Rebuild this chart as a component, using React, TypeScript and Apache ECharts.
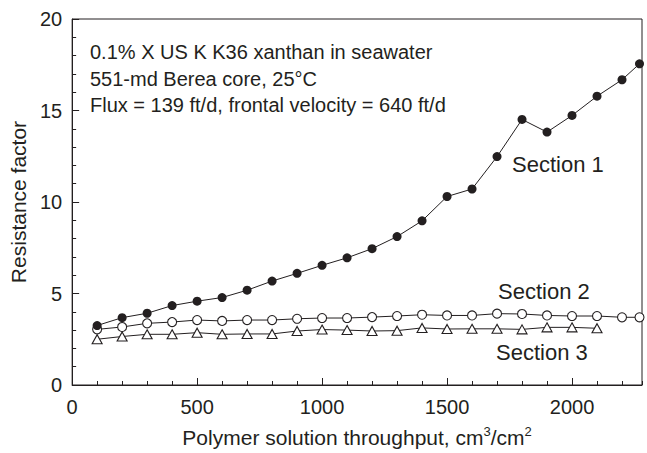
import React, { useEffect, useRef } from "react";
import * as echarts from "echarts";

// Throughput, cm3/cm2
const throughputS1 = [100, 200, 300, 400, 500, 600, 700, 800, 900, 1000, 1100, 1200, 1300, 1400, 1500, 1600, 1700, 1800, 1900, 2000, 2100, 2200, 2270];
const throughputS2 = [100, 200, 300, 400, 500, 600, 700, 800, 900, 1000, 1100, 1200, 1300, 1400, 1500, 1600, 1700, 1800, 1900, 2000, 2100, 2200, 2270];
const throughputS3 = [100, 200, 300, 400, 500, 600, 700, 800, 900, 1000, 1100, 1200, 1300, 1400, 1500, 1600, 1700, 1800, 1900, 2000, 2100];

// Resistance factor per section
const section1 = [3.25, 3.68, 3.92, 4.34, 4.58, 4.78, 5.18, 5.68, 6.1, 6.54, 6.95, 7.45, 8.11, 8.97, 10.3, 10.71, 12.48, 14.51, 13.82, 14.73, 15.78, 16.68, 17.55];
const section2 = [3.04, 3.17, 3.37, 3.44, 3.55, 3.5, 3.55, 3.55, 3.62, 3.66, 3.66, 3.71, 3.77, 3.84, 3.8, 3.8, 3.9, 3.88, 3.8, 3.77, 3.77, 3.7, 3.7];
const section3 = [2.5, 2.65, 2.77, 2.77, 2.86, 2.77, 2.79, 2.79, 2.95, 3.03, 3.0, 2.95, 2.97, 3.12, 3.06, 3.07, 3.07, 3.04, 3.15, 3.15, 3.1];

const xTicks = [0, 500, 1000, 1500, 2000];
const yTicks = [0, 5, 10, 15, 20];

const noteLines = [
  "0.1% X US K K36 xanthan in seawater",
  "551-md Berea core, 25°C",
  "Flux = 139 ft/d, frontal velocity = 640 ft/d",
];
const sectionNames = ["Section 1", "Section 2", "Section 3"];

const INK = "#231f20";
const FONT = "'Liberation Sans', Arial, sans-serif";

const pair = (xs: number[], ys: number[]) => xs.map((x, i) => [x, ys[i]]);

export default function App() {
  const ref = useRef<HTMLDivElement>(null);

  useEffect(() => {
    if (!ref.current) return;
    const chart = echarts.init(ref.current, undefined, { renderer: "svg" });

    const lineSeries = (name: string, data: number[][], symbol: string, size: number | number[], filled: boolean) => ({
      name,
      type: "line",
      data,
      symbol,
      symbolSize: size,
      showSymbol: true,
      lineStyle: { color: INK, width: 1 },
      itemStyle: filled
        ? { color: INK, borderColor: INK, borderWidth: 0 }
        : { color: "#ffffff", borderColor: INK, borderWidth: 1.1 },
      emphasis: { disabled: true },
      z: 3,
    });

    chart.setOption({
      animation: false,
      backgroundColor: "#ffffff",
      textStyle: { fontFamily: FONT, color: INK },
      grid: {
        left: 70,
        right: 5,
        top: 19,
        bottom: 66,
        show: true,
        borderColor: INK,
        borderWidth: 1,
        backgroundColor: "transparent",
      },
      xAxis: [
        {
          type: "value",
          min: xTicks[0],
          max: 2280,
          interval: 500,
          name: "Polymer solution throughput, cm{sup|3}/cm{sup|2}",
          nameLocation: "middle",
          nameGap: 40,
          nameTextStyle: {
            fontSize: 21,
            color: INK,
            fontFamily: FONT,
            rich: { sup: { fontSize: 13, verticalAlign: "top", padding: [0, 0, 12, 0], color: INK, fontFamily: FONT } },
          },
          axisLine: { show: true, lineStyle: { color: INK, width: 1 } },
          axisTick: { show: true, inside: true, length: 7, lineStyle: { color: INK, width: 1 } },
          axisLabel: {
            fontSize: 20,
            color: INK,
            fontFamily: FONT,
            margin: 12,
            showMaxLabel: false,
            formatter: (v: number) => (xTicks.includes(v) ? String(v) : ""),
          },
          splitLine: { show: false },
        },
        {
          // every-100 minor ticks along the bottom edge
          type: "value",
          position: "bottom",
          min: 0,
          max: 2280,
          interval: 100,
          axisLine: { show: false },
          axisTick: { show: true, inside: true, length: 4, lineStyle: { color: INK, width: 1 } },
          axisLabel: { show: false },
          splitLine: { show: false },
        },
      ],
      yAxis: {
        type: "value",
        min: yTicks[0],
        max: yTicks[yTicks.length - 1],
        interval: 5,
        name: "Resistance factor",
        nameLocation: "middle",
        nameGap: 37,
        nameTextStyle: { fontSize: 21, color: INK, fontFamily: FONT },
        axisLine: { show: true, lineStyle: { color: INK, width: 1 } },
        axisTick: { show: true, inside: true, length: 7, lineStyle: { color: INK, width: 1 } },
        minorTick: { show: true, splitNumber: 5, length: 4, lineStyle: { color: INK, width: 1 } },
        axisLabel: { fontSize: 20, color: INK, fontFamily: FONT, margin: 10 },
        splitLine: { show: false },
        minorSplitLine: { show: false },
      },
      graphic: [
        ...noteLines.map((t, i) => ({
          type: "text",
          left: 90,
          top: 42 + i * 26.5,
          style: { text: t, fontSize: 20, fill: INK, fontFamily: FONT },
          silent: true,
        })),
        {
          type: "text",
          left: 512,
          top: 153,
          style: { text: sectionNames[0], fontSize: 22, fill: INK, fontFamily: FONT },
          silent: true,
        },
        {
          type: "text",
          left: 498,
          top: 280,
          style: { text: sectionNames[1], fontSize: 22, fill: INK, fontFamily: FONT },
          silent: true,
        },
        {
          type: "text",
          left: 496,
          top: 341,
          style: { text: sectionNames[2], fontSize: 22, fill: INK, fontFamily: FONT },
          silent: true,
        },
      ],
      series: [
        lineSeries(sectionNames[2], pair(throughputS3, section3), "triangle", [10, 9], false),
        lineSeries(sectionNames[1], pair(throughputS2, section2), "circle", 9, false),
        lineSeries(sectionNames[0], pair(throughputS1, section1), "circle", 9, true),
      ],
    });

    return () => chart.dispose();
  }, []);

  return <div ref={ref} style={{ width: 647, height: 453, position: "absolute", left: 0, top: 0 }} />;
}
